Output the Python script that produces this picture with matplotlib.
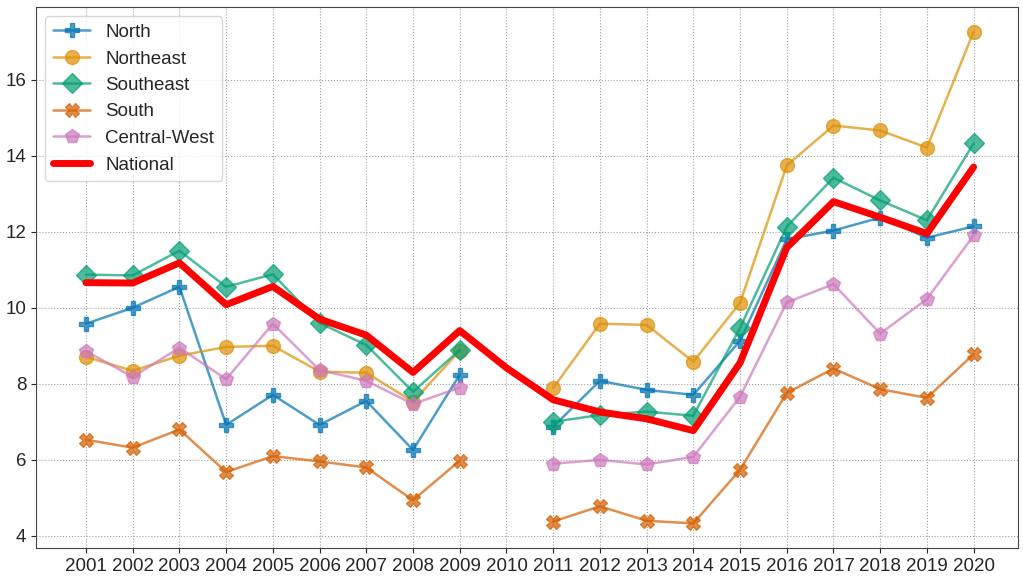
import numpy as np
import matplotlib
matplotlib.use("Agg")
import matplotlib.pyplot as plt
import seaborn as sns

sns.set_style("ticks")
plt.rcParams['font.family'] = ['Liberation Sans', 'DejaVu Sans']

years = list(range(2001, 2021))
nan = np.nan

north = [9.58, 10.0, 10.55, 6.92, 7.71, 6.92, 7.55, 6.26, 8.24, nan,
         6.87, 8.08, 7.84, 7.71, 9.13, 11.8, 12.03, 12.37, 11.84, 12.14]
northeast = [8.71, 8.34, 8.74, 8.97, 9.0, 8.32, 8.29, 7.53, 8.87, nan,
             7.89, 9.58, 9.55, 8.58, 10.13, 13.74, 14.79, 14.66, 14.21, 17.26]
southeast = [10.87, 10.85, 11.5, 10.55, 10.88, 9.6, 9.02, 7.79, 8.89, nan,
             7.0, 7.18, 7.27, 7.16, 9.47, 12.13, 13.42, 12.82, 12.3, 14.32]
south = [6.53, 6.32, 6.8, 5.68, 6.1, 5.96, 5.8, 4.94, 5.98, nan,
         4.38, 4.78, 4.4, 4.33, 5.74, 7.76, 8.4, 7.86, 7.63, 8.78]
central_west = [8.86, 8.18, 8.95, 8.12, 9.58, 8.36, 8.08, 7.47, 7.9, nan,
                5.9, 6.0, 5.88, 6.08, 7.66, 10.14, 10.62, 9.32, 10.23, 11.9]
national = [10.66, 10.65, 11.18, 10.08, 10.56, 9.7, 9.28, 8.3, 9.4, 8.42,
            7.58, 7.26, 7.08, 6.77, 8.55, 11.58, 12.79, 12.38, 11.95, 13.7]

regions = ["North", "Northeast", "Southeast", "South", "Central-West"]
series = [north, northeast, southeast, south, central_west]
markers = ["P", "o", "D", "X", "p"]
colors = sns.color_palette("colorblind")[:5]

fig = plt.figure(figsize=(10.23, 5.76), dpi=100)
ax = fig.add_axes([36 / 1023, 1 - 548 / 576, (1018 - 36) / 1023, (548 - 7) / 576])

for name, vals, m, c in zip(regions, series, markers, colors):
    ax.plot(years, vals, marker=m, color=c, label=name, alpha=0.7,
            lw=1.8, markersize=10)
ax.plot(years, national, color="red", lw=5, label="National")

ax.set_xticks(years)
ax.set_xlim(1999.93, 2020.95)
ax.tick_params(labelsize=13.5, colors="#262626")
ax.grid(True, linestyle=":", color="#a0a0a0", lw=0.8)
for s in ax.spines.values():
    s.set_color("#444444")
ax.legend(loc="upper left", fontsize=13.5, frameon=True)

fig.savefig("out.png", dpi=100)
